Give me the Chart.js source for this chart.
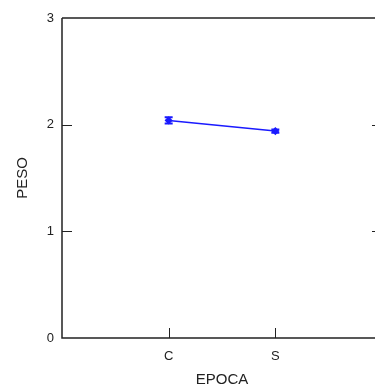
<!DOCTYPE html>
<html>
<head>
<meta charset="utf-8">
<script src="https://cdn.jsdelivr.net/npm/chart.js@4/dist/chart.umd.min.js"></script>
<style>
html,body{margin:0;padding:0;background:#fff;overflow:hidden;}
#wrap{width:375px;height:389px;overflow:hidden;position:relative;}
canvas{display:block;}
</style>
</head>
<body>
<div id="wrap"><canvas id="c" width="390" height="389"></canvas></div>
<script>
const categories = ["C", "S"];
const categoryPositions = [1, 2];
const pesoMeans = [2.04, 1.94];
const pesoErrors = [0.03, 0.015];
const yTickValues = [0, 1, 2, 3];

const FONT = "'Liberation Sans', Arial, sans-serif";

const points = categories.map((c, i) => ({ x: categoryPositions[i], y: pesoMeans[i] }));

const framePlugin = {
  id: 'frame',
  afterDraw(chart) {
    const { ctx, chartArea: a, scales } = chart;
    ctx.save();
    ctx.strokeStyle = '#222';
    ctx.lineWidth = 1.5;
    ctx.beginPath();
    ctx.moveTo(a.left, a.top); ctx.lineTo(a.right, a.top);
    ctx.moveTo(a.right, a.top); ctx.lineTo(a.right, a.bottom);
    ctx.moveTo(a.left, a.top); ctx.lineTo(a.left, a.bottom);
    ctx.lineTo(a.right, a.bottom);
    ctx.stroke();
    ctx.lineWidth = 1;
    ctx.strokeStyle = '#222';
    ctx.beginPath();
    [1, 2].forEach(v => {
      const py = Math.round(scales.y.getPixelForValue(v)) + 0.5;
      ctx.moveTo(a.left, py); ctx.lineTo(a.left + 10, py);
      ctx.moveTo(a.right, py); ctx.lineTo(a.right - 10, py);
    });
    categoryPositions.forEach(v => {
      const px = Math.round(scales.x.getPixelForValue(v)) + 0.5;
      ctx.moveTo(px, a.bottom); ctx.lineTo(px, a.bottom - 10);
    });
    ctx.stroke();
    ctx.restore();
  },
  afterDatasetsDraw(chart) {
    const { ctx, scales } = chart;
    ctx.save();
    ctx.strokeStyle = '#1a1aff';
    ctx.lineWidth = 2;
    categoryPositions.forEach((xv, i) => {
      const px = scales.x.getPixelForValue(xv);
      const t = scales.y.getPixelForValue(pesoMeans[i] + pesoErrors[i]);
      const b = scales.y.getPixelForValue(pesoMeans[i] - pesoErrors[i]);
      ctx.beginPath();
      ctx.moveTo(px, t); ctx.lineTo(px, b);
      ctx.moveTo(px - 4, t); ctx.lineTo(px + 4, t);
      ctx.moveTo(px - 4, b); ctx.lineTo(px + 4, b);
      ctx.stroke();
    });
    ctx.restore();
  }
};

new Chart(document.getElementById('c'), {
  type: 'line',
  data: {
    datasets: [{
      data: points,
      borderColor: '#1a1aff',
      backgroundColor: '#1a1aff',
      borderWidth: 1.5,
      pointRadius: 3,
      pointStyle: 'rectRot',
      tension: 0
    }]
  },
  options: {
    responsive: false,
    animation: false,
    layout: { padding: { top: 18, right: 8, left: 0, bottom: 0 } },
    plugins: { legend: { display: false }, tooltip: { enabled: false } },
    scales: {
      x: {
        type: 'linear',
        min: 0, max: 3,
        afterBuildTicks(scale) { scale.ticks = categoryPositions.map(v => ({ value: v })); },
        afterFit(scale) { scale.height = 51; },
        grid: { display: false, drawTicks: false },
        border: { display: false },
        ticks: {
          padding: 11,
          color: '#222',
          font: { family: FONT, size: 13 },
          callback: (v) => categories[categoryPositions.indexOf(v)] ?? ''
        },
        title: { display: true, text: 'EPOCA', color: '#222', font: { family: FONT, size: 15 }, padding: { top: 3, bottom: 0 } }
      },
      y: {
        min: 0, max: 3,
        afterBuildTicks(scale) { scale.ticks = yTickValues.map(v => ({ value: v })); },
        afterFit(scale) { scale.width = 62; },
        grid: { display: false, drawTicks: false },
        border: { display: false },
        ticks: { padding: 8, color: '#222', font: { family: FONT, size: 13 } },
        title: { display: true, text: 'PESO', color: '#222', font: { family: FONT, size: 15 }, padding: { top: 14, bottom: 0 } }
      }
    }
  },
  plugins: [framePlugin]
});
</script>
</body>
</html>
